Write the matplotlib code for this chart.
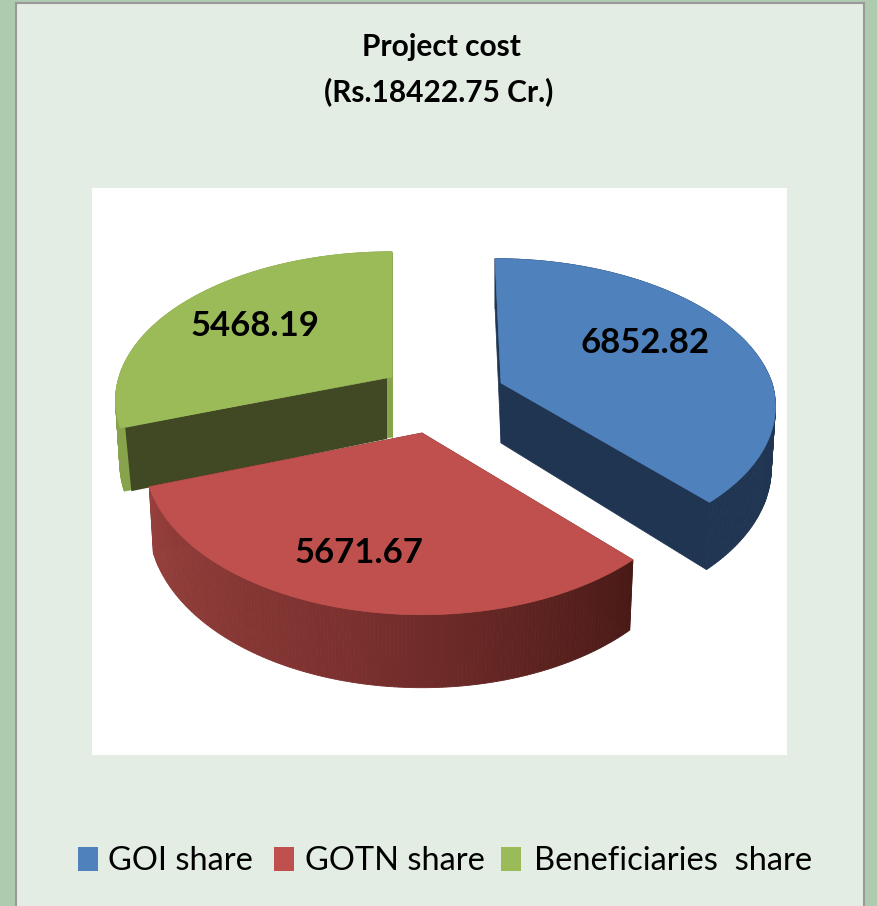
import numpy as np
import matplotlib
matplotlib.use('Agg')
import matplotlib.pyplot as plt
from matplotlib.colors import LinearSegmentedColormap
from matplotlib.patches import Rectangle

# Chart data
shares = ['GOI share', 'GOTN share', 'Beneficiaries  share']
values = [6852.82, 5671.67, 5468.19]
value_labels = ['6852.82', '5671.67', '5468.19']
title_lines = ['Project cost', '(Rs.18422.75 Cr.)']

# Colours
top_colors = ['#4f81bd', '#c0504d', '#9bbb59']
face_colors = ['#1f3552', '#5a2220', '#404923']
green_wall = '#87a34c'
red_wall = LinearSegmentedColormap.from_list('red_wall', ['#4a1a17', '#7c312f', '#96403c'])

W, H = 877, 906
fig = plt.figure(figsize=(W / 100, H / 100), dpi=100, facecolor='#aecbaf')
ax = fig.add_axes([0, 0, 1, 1])
ax.set_xlim(0, W)
ax.set_ylim(H, 0)
ax.axis('off')

# Panel and white plot area
ax.add_patch(Rectangle((16, 3), 848, 910, fc='#e3ede4', ec='#999999', lw=1.5))
ax.add_patch(Rectangle((92, 188), 695, 567, fc='white', ec='none'))

# Pie angles, clockwise from the top
angles = np.cumsum([0] + values) / sum(values) * 2 * np.pi

# Slice centre, x radius, y scale, lean of the far side, thickness
slices = [(501, 383, 271, 144, -6, 60),
          (422, 433, 274, 153, 0, 63),
          (392, 377, 273, 145, 0, 60)]
Q = 0.158   # perspective: the near side of the disc looks bigger


def project(t, geom):
    cx, cy, a, b, lean, _ = geom
    u, v = np.sin(t), np.cos(t)
    w = 1 + Q * v
    return cx + a * u / w + lean * np.maximum(v, 0), cy - b * v / w, v


def lower(x, y, v, geom):
    # same point on the underside of the slice
    return geom[0] + (x - geom[0]) * 0.985, y + geom[5] - 10 * v


def draw_slice(i, inset=0):
    geom = slices[i]
    t = np.linspace(angles[i], angles[i + 1], 160)
    x, y, v = project(t, geom)
    xb, yb = lower(x, y, v, geom)
    cx, cy = geom[0], geom[1]
    depth = geom[5]

    # cut faces
    face = green_wall if i == 2 else face_colors[i]
    for end in (0, -1):
        ax.fill([cx, x[end], xb[end], cx], [cy, y[end], yb[end], cy + depth],
                color=face, lw=0.5)

    # outer wall as thin quads
    for k in range(len(t) - 1):
        if i == 1:
            col = red_wall(k / (len(t) - 2))
        elif i == 2:
            col = green_wall
        else:
            col = face_colors[0]
        ax.fill([x[k], x[k + 1], xb[k + 1], xb[k]],
                [y[k], y[k + 1], yb[k + 1], yb[k]], color=col, lw=0.6)

    # dark cut face of the green slice sits slightly inside its wall
    if inset:
        ax.fill([cx - inset, x[0] + inset, xb[0] + inset + 2, cx - inset],
                [cy, y[0], yb[0], cy + depth + 2], color=face_colors[2], lw=0)

    ax.fill(np.r_[cx, x], np.r_[cy, y], color=top_colors[i], lw=0.5)


draw_slice(0)
draw_slice(2, inset=5)
draw_slice(1)

# Value labels
label_pos = [(645, 343), (359, 553), (255, 326)]
for (lx, ly), text in zip(label_pos, value_labels):
    ax.text(lx, ly, text, ha='center', va='center', color='black',
            fontsize=25, fontweight='bold', family='Lato')

# Title
ax.text(441, 47, title_lines[0], ha='center', va='center', color='black',
        fontsize=21.5, fontweight='bold', family='Lato')
ax.text(439, 92, title_lines[1], ha='center', va='center', color='black',
        fontsize=21.5, fontweight='bold', family='Lato')

# Legend
square_x = [78, 274, 501]
text_x = [108, 305, 534]
for sx, tx, name, col in zip(square_x, text_x, shares, top_colors):
    ax.add_patch(Rectangle((sx, 847), 20, 24, fc=col, ec='none'))
    ax.text(tx, 861, name, ha='left', va='center', color='black',
            fontsize=23.5, family='Lato')

fig.savefig('out.png', dpi=100, facecolor=fig.get_facecolor())
